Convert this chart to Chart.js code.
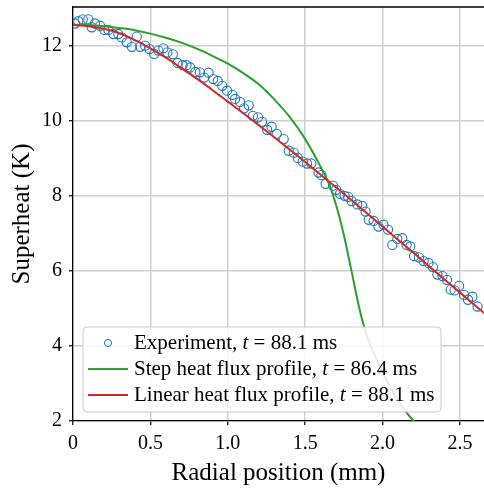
<!DOCTYPE html>
<html>
<head>
<meta charset="utf-8">
<script src="https://cdn.jsdelivr.net/npm/chart.js@4.4.1/dist/chart.umd.min.js"></script>
<style>
html,body{margin:0;padding:0;background:#fff;}
#wrap{width:484px;height:489px;position:relative;}
</style>
</head>
<body>
<div id="wrap"><canvas id="c" width="484" height="489"></canvas></div>
<script>
// ---------- data ----------
const expX = [0.013,0.034,0.063,0.099,0.121,0.142,0.175,0.203,0.229,0.261,0.293,0.315,0.347,0.380,0.412,0.434,0.466,0.494,0.524,0.552,0.584,0.610,0.645,0.675,0.708,0.733,0.757,0.790,0.820,0.847,0.876,0.906,0.935,0.964,0.995,1.030,1.047,1.079,1.105,1.135,1.162,1.195,1.221,1.254,1.283,1.316,1.361,1.394,1.426,1.452,1.484,1.512,1.540,1.586,1.605,1.632,1.680,1.700,1.725,1.755,1.778,1.800,1.836,1.868,1.890,1.911,1.942,1.973,2.006,2.035,2.063,2.095,2.127,2.155,2.179,2.203,2.235,2.265,2.296,2.325,2.354,2.387,2.416,2.440,2.465,2.494,2.526,2.552,2.580,2.613];
const expY = [12.59,12.65,12.70,12.70,12.49,12.59,12.53,12.42,12.42,12.31,12.31,12.22,12.09,11.97,12.24,11.97,12.00,11.91,11.78,11.87,11.93,11.82,11.77,11.54,11.48,11.48,11.42,11.30,11.29,11.15,11.28,11.11,11.06,10.93,10.80,10.69,10.58,10.50,10.33,10.41,10.13,10.09,9.97,9.76,9.84,9.65,9.51,9.20,9.15,9.01,8.91,8.86,8.86,8.62,8.55,8.32,8.27,8.16,8.05,8.00,7.97,7.86,7.77,7.73,7.58,7.36,7.33,7.18,7.23,7.10,6.69,6.85,6.87,6.69,6.65,6.39,6.36,6.26,6.21,6.10,5.90,5.86,5.76,5.50,5.48,5.60,5.36,5.23,5.31,5.05];

const stepX = [0,0.1,0.2,0.3,0.4,0.5,0.6,0.7,0.8,0.9,1.0,1.1,1.2,1.3,1.4,1.5,1.6,1.65,1.7,1.75,1.8,1.85,1.9,1.95,2.0,2.05,2.1,2.15,2.2,2.25];
const stepY = [12.56,12.55,12.52,12.47,12.41,12.32,12.21,12.08,11.92,11.73,11.52,11.27,10.97,10.57,10.10,9.51,8.77,8.35,7.75,6.95,5.98,5.00,4.25,3.75,3.30,2.90,2.55,2.25,2.00,1.77];

const linX = [0,0.1,0.2,0.3,0.4,0.5,0.6,0.7,0.8,0.9,1.0,1.1,1.2,1.3,1.4,1.5,1.6,1.7,1.8,1.9,2.0,2.1,2.2,2.3,2.4,2.5,2.6,2.7];
const linY = [12.55,12.52,12.45,12.33,12.15,11.93,11.68,11.40,11.12,10.82,10.51,10.20,9.88,9.56,9.23,8.90,8.56,8.22,7.88,7.53,7.18,6.83,6.48,6.12,5.77,5.42,5.07,4.72];

const xTicks = [0,0.5,1.0,1.5,2.0,2.5];
const xTickLabels = ['0','0.5','1.0','1.5','2.0','2.5'];
const yTicks = [2,4,6,8,10,12];
const yTickLabels = ['2','4','6','8','10','12'];

const seriesLabels = ['Experiment, t = 88.1 ms','Step heat flux profile, t = 86.4 ms','Linear heat flux profile, t = 88.1 ms'];
const xTitle = 'Radial position (mm)';
const yTitle = 'Superheat (K)';

// ---------- helpers ----------
const toPts = (xs, ys) => xs.map((x, i) => ({x: x, y: ys[i]}));
const SERIF = '"Liberation Serif", "Times New Roman", "DejaVu Serif", serif';

const frameAndLegend = {
  id: 'frameAndLegend',
  afterDraw(chart) {
    const ctx = chart.ctx, ca = chart.chartArea;
    ctx.save();
    // top spine
    ctx.strokeStyle = '#000'; ctx.lineWidth = 1.3;
    ctx.beginPath(); ctx.moveTo(ca.left - 0.6, ca.top); ctx.lineTo(ca.right, ca.top); ctx.stroke();

    // legend
    const bx = ca.left + 10, by = ca.top + 320, bw = 358, bh = 85, r = 4;
    ctx.beginPath();
    ctx.moveTo(bx + r, by); ctx.lineTo(bx + bw - r, by); ctx.quadraticCurveTo(bx + bw, by, bx + bw, by + r);
    ctx.lineTo(bx + bw, by + bh - r); ctx.quadraticCurveTo(bx + bw, by + bh, bx + bw - r, by + bh);
    ctx.lineTo(bx + r, by + bh); ctx.quadraticCurveTo(bx, by + bh, bx, by + bh - r);
    ctx.lineTo(bx, by + r); ctx.quadraticCurveTo(bx, by, bx + r, by);
    ctx.closePath();
    ctx.fillStyle = 'rgba(255,255,255,0.85)'; ctx.fill();
    ctx.strokeStyle = '#cccccc'; ctx.lineWidth = 1; ctx.stroke();

    const ds = chart.data.datasets;
    const rowY = [by + 16, by + 42, by + 68];
    const hx0 = bx + 5, hx1 = bx + 45, tx = bx + 51;
    ds.forEach((d, i) => {
      const cy = rowY[i];
      if (d.showLine) {
        ctx.strokeStyle = d.borderColor; ctx.lineWidth = 2.2;
        ctx.beginPath(); ctx.moveTo(hx0, cy); ctx.lineTo(hx1, cy); ctx.stroke();
      } else {
        ctx.strokeStyle = d.borderColor; ctx.lineWidth = 1;
        ctx.beginPath(); ctx.arc((hx0 + hx1) / 2, cy, 3.6, 0, Math.PI * 2); ctx.stroke();
      }
      const label = d.label;
      const k = label.indexOf(', t = ');
      const parts = k >= 0 ? [[label.slice(0, k + 2), ''], ['t', 'italic '], [label.slice(k + 3), '']] : [[label, '']];
      let x = tx;
      ctx.fillStyle = '#000'; ctx.textBaseline = 'alphabetic'; ctx.textAlign = 'left';
      parts.forEach(p => {
        ctx.font = p[1] + '21px ' + SERIF;
        ctx.fillText(p[0], x, cy + 6);
        x += ctx.measureText(p[0]).width;
      });
    });
    ctx.restore();
  }
};

new Chart(document.getElementById('c'), {
  type: 'scatter',
  data: {
    datasets: [
      {label: seriesLabels[0], data: toPts(expX, expY), showLine: false, pointStyle: 'circle', pointRadius: 4.6, pointBorderWidth: 1.1, borderColor: '#1f77b4', backgroundColor: 'rgba(0,0,0,0)', pointBackgroundColor: 'rgba(0,0,0,0)', pointBorderColor: '#1f77b4', order: 3},
      {label: seriesLabels[1], data: toPts(stepX, stepY), showLine: true, pointRadius: 0, borderColor: '#2ca02c', backgroundColor: '#2ca02c', borderWidth: 2, cubicInterpolationMode: 'monotone', order: 2},
      {label: seriesLabels[2], data: toPts(linX, linY), showLine: true, pointRadius: 0, borderColor: '#d62728', backgroundColor: '#d62728', borderWidth: 2, cubicInterpolationMode: 'monotone', order: 1}
    ]
  },
  options: {
    responsive: false, animation: false, devicePixelRatio: 1,
    layout: {padding: {top: 7, right: 0, left: 0, bottom: 0}, autoPadding: false},
    plugins: {legend: {display: false}, tooltip: {enabled: false}},
    scales: {
      x: {
        type: 'linear', min: 0, max: 2.655,
        afterBuildTicks: s => { s.ticks = xTicks.map(v => ({value: v})); },
        afterFit: s => { s.height = 68; s.paddingLeft = 0; s.paddingRight = 0; },
        ticks: {color: '#000', font: {family: SERIF, size: 20}, padding: 7, maxRotation: 0, autoSkip: false,
          callback: (v) => { const i = xTicks.indexOf(v); return i >= 0 ? xTickLabels[i] : ''; }},
        grid: {color: '#cfcfcf', lineWidth: 1.5, drawTicks: true, tickLength: 4, tickColor: '#000', tickWidth: 1.2},
        border: {display: true, color: '#000', width: 1.3},
        title: {display: true, text: xTitle, color: '#000', font: {family: SERIF, size: 25}, padding: {top: 0, bottom: 1}}
      },
      y: {
        type: 'linear', min: 2, max: 13.03,
        afterBuildTicks: s => { s.ticks = yTicks.map(v => ({value: v})); },
        afterFit: s => { s.width = 73; s.paddingTop = 0; s.paddingBottom = 0; },
        ticks: {color: '#000', font: {family: SERIF, size: 20}, padding: 7, autoSkip: false,
          callback: (v) => { const i = yTicks.indexOf(v); return i >= 0 ? yTickLabels[i] : ''; }},
        grid: {color: '#cfcfcf', lineWidth: 1.5, drawTicks: true, tickLength: 4, tickColor: '#000', tickWidth: 1.2},
        border: {display: true, color: '#000', width: 1.3},
        title: {display: true, text: yTitle, color: '#000', font: {family: SERIF, size: 25}, padding: {top: 7, bottom: 0}}
      }
    }
  },
  plugins: [frameAndLegend]
});
</script>
</body>
</html>
